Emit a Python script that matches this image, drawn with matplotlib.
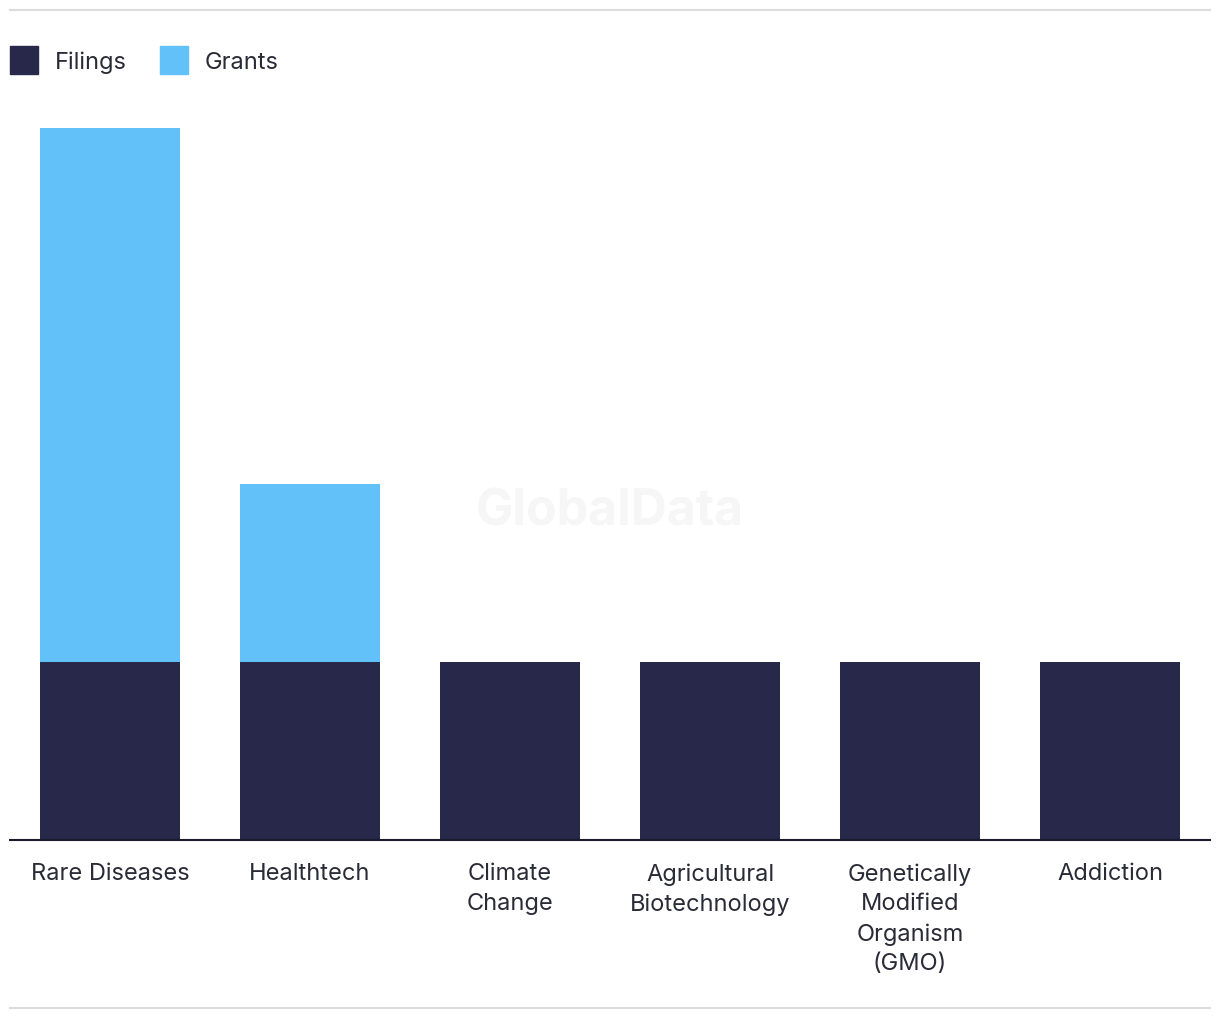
import matplotlib
import matplotlib.pyplot as plt
from matplotlib.lines import Line2D
from matplotlib.patches import Patch

matplotlib.use("Agg")

# data
categories = [
    "Rare Diseases",
    "Healthtech",
    "Climate\nChange",
    "Agricultural\nBiotechnology",
    "Genetically\nModified\nOrganism\n(GMO)",
    "Addiction",
]
filings = [1, 1, 1, 1, 1, 1]
grants = [3, 1, 0, 0, 0, 0]

navy = "#27284a"
blue = "#62c1f8"
text_c = "#2a2b36"

plt.rcParams["font.family"] = ["Inter", "DejaVu Sans"]

fig = plt.figure(figsize=(12.2, 10.2), dpi=100)
ax = fig.add_axes([10 / 1220, 179 / 1020, 1200 / 1220, 741 / 1020])

x = list(range(len(categories)))
ax.bar(x, filings, width=0.7, color=navy, zorder=2)
ax.bar(x, grants, width=0.7, bottom=filings, color=blue, zorder=2)

ax.set_xlim(-0.5, len(categories) - 0.5)
ax.set_ylim(0, 741 / 178)

# axis styling
for side in ["top", "right", "left"]:
    ax.spines[side].set_visible(False)
ax.spines["bottom"].set_color("#1a1a2a")
ax.spines["bottom"].set_linewidth(1.5)
ax.set_yticks([])
ax.set_xticks(x)
ax.set_xticklabels(categories, fontsize=17, color=text_c, linespacing=1.45, va="top")
ax.tick_params(axis="x", length=0, pad=16)

# watermark
fig.text(610 / 1220, 1 - 512 / 1020, "GlobalData", fontsize=36, fontweight="bold",
         color="#f6f6f6", ha="center", va="center", zorder=0)

# legend
handles = [Patch(color=navy, label="Filings"), Patch(color=blue, label="Grants")]
fig.legend(handles=handles, loc="center left", bbox_to_anchor=(10 / 1220, 1 - 61 / 1020),
           ncol=2, frameon=False, fontsize=17, handlelength=1.2, handleheight=1.5,
           handletextpad=0.7, columnspacing=1.4, labelcolor=text_c,
           borderpad=0, borderaxespad=0)

# top / bottom rules
fig.add_artist(Line2D([10 / 1220, 1210 / 1220], [1 - 11 / 1020] * 2, color="#dcdcdc", lw=1.5))
fig.add_artist(Line2D([10 / 1220, 1210 / 1220], [1 - 1009 / 1020] * 2, color="#dcdcdc", lw=1.5))

fig.savefig("out.png", dpi=100)
plt.close(fig)
